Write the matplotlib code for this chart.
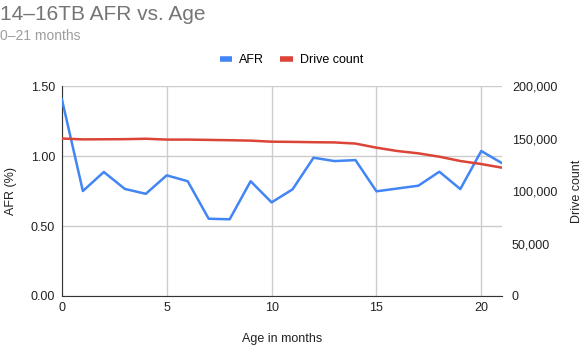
import matplotlib.pyplot as plt
from matplotlib.ticker import FuncFormatter

plt.rcParams['font.family'] = ['Liberation Sans', 'DejaVu Sans']

# data
months = list(range(22))
afr = [1.405, 0.75, 0.886, 0.765, 0.73, 0.862, 0.82, 0.552, 0.548, 0.82,
       0.669, 0.762, 0.988, 0.964, 0.971, 0.748, 0.768, 0.788, 0.888, 0.764,
       1.036, 0.948]
drive_count = [150000, 149200, 149300, 149400, 149800, 149000, 149000, 148700,
               148400, 148000, 147000, 146800, 146500, 146300, 145200, 141300,
               138100, 135900, 132700, 128600, 125700, 122200]

BLUE = '#4285F4'
RED = '#DB4437'
GRID = '#cccccc'
TEXT = '#222222'

fig = plt.figure(figsize=(5.84, 3.47), dpi=100)
ax = fig.add_axes([0.106, 0.147, 0.754, 0.605])
ax2 = ax.twinx()

ax.plot(months, afr, color=BLUE, lw=1.8, zorder=3, label='AFR')
ax2.plot(months, drive_count, color=RED, lw=1.8, zorder=2, label='Drive count')

ax.set_xlim(0, 21)
ax.set_ylim(0, 1.5)
ax2.set_ylim(0, 200000)
ax.set_xticks([0, 5, 10, 15, 20])
ax.set_yticks([0, 0.5, 1.0, 1.5])
ax2.set_yticks([0, 50000, 100000, 150000, 200000])
ax.yaxis.set_major_formatter(FuncFormatter(lambda v, p: f'{v:.2f}'))
ax2.yaxis.set_major_formatter(FuncFormatter(lambda v, p: f'{int(v):,}'))

ax.grid(True, color=GRID, lw=1)
ax.set_axisbelow(True)
for a in (ax, ax2):
    for s in ('top', 'right'):
        a.spines[s].set_visible(False)
    a.tick_params(length=0, labelsize=9, colors=TEXT)
ax2.spines['left'].set_visible(False)
ax2.spines['bottom'].set_visible(False)
ax.spines['left'].set_color('#333333')
ax.spines['bottom'].set_color('#333333')
ax.tick_params(axis='y', pad=5)
ax.tick_params(axis='x', pad=4)
ax2.tick_params(axis='y', pad=7)

ax.set_xlabel('Age in months', fontsize=9, color=TEXT, labelpad=14)
ax.set_ylabel('AFR (%)', fontsize=9, color=TEXT, labelpad=10)
ax2.set_ylabel('Drive count', fontsize=9, color=TEXT, labelpad=10)

fig.text(0.0, 0.985, '14–16TB AFR vs. Age', fontsize=15, color='#757575',
         va='top', ha='left')
fig.text(0.0, 0.915, '0–21 months', fontsize=10, color='#9e9e9e',
         va='top', ha='left')

h1, l1 = ax.get_legend_handles_labels()
h2, l2 = ax2.get_legend_handles_labels()
leg = fig.legend(h1 + h2, l1 + l2, loc='center', bbox_to_anchor=(0.499, 0.827),
                 ncol=2, frameon=False, fontsize=9, handlelength=1.0,
                 handleheight=0.5, columnspacing=1.3, handletextpad=0.55)
for line in leg.get_lines():
    line.set_linewidth(4)
    line.set_solid_capstyle('butt')

fig.savefig('out.png', dpi=100)
